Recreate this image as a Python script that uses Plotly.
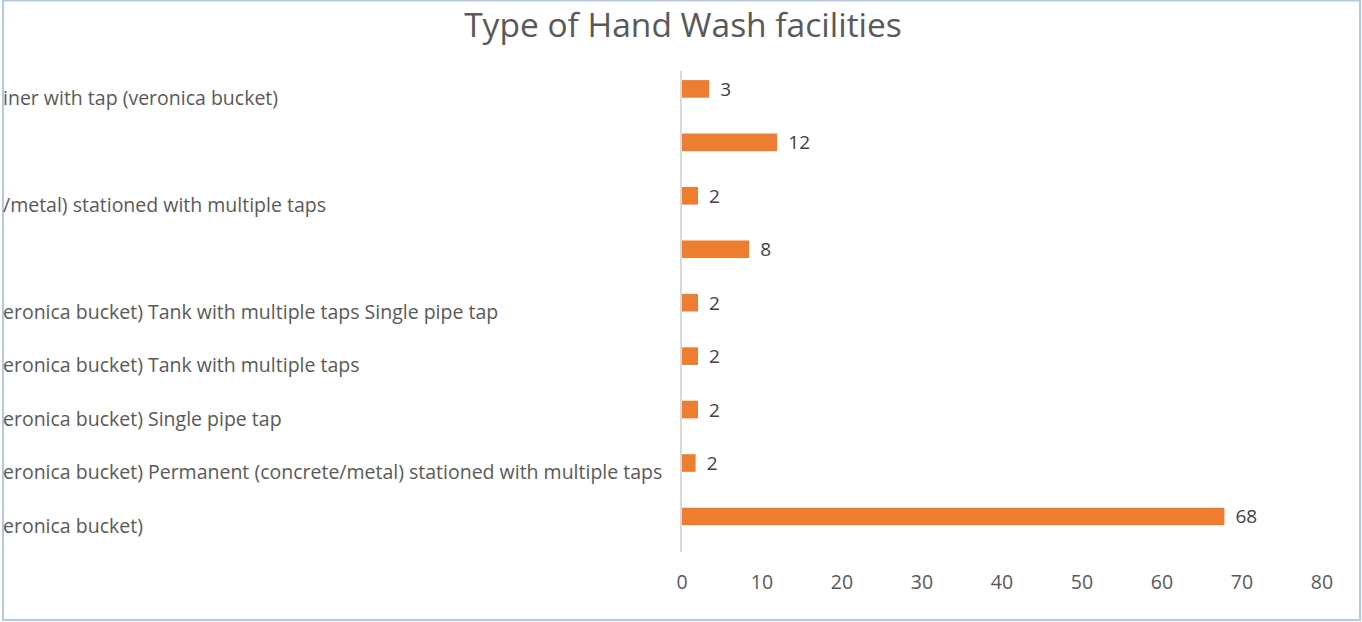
import plotly.graph_objects as go

# Visible (clipped) category labels, top to bottom
labels = [
    "iner with tap (veronica bucket)",
    "",
    "/metal) stationed with multiple taps",
    "",
    "eronica bucket) Tank with multiple taps Single pipe tap",
    "eronica bucket) Tank with multiple taps",
    "eronica bucket) Single pipe tap",
    "eronica bucket) Permanent (concrete/metal) stationed with multiple taps",
    "eronica bucket)",
]
values = [3.4, 11.9, 2.0, 8.4, 2.0, 2.0, 2.0, 1.7, 67.8]
x_ticks = [0, 10, 20, 30, 40, 50, 60, 70, 80]
title = "Type of Hand Wash facilities"

W, H = 1362, 622
ML, MR, MT, MB = 682, 40, 71, 70
PW, PH = W - ML - MR, H - MT - MB

FONT = "Open Sans"
GRAY = "#595959"

positions = list(range(len(values)))

fig = go.Figure()
fig.add_trace(go.Bar(
    x=values,
    y=positions,
    orientation="h",
    marker=dict(color="#ED7D31", line=dict(width=0)),
    width=0.33,
    offset=-0.33,
    text=values,
    texttemplate=" \u2009%{x:.0f}",
    textposition="outside",
    constraintext="none",
    textfont=dict(family=FONT, size=19, color="#404040"),
    cliponaxis=False,
    hoverinfo="skip",
))

def px_x(px):
    return (px - ML) / PW

def px_y(py):
    return (H - MB - py) / PH

annotations = []
for i, lab in enumerate(labels):
    if lab:
        annotations.append(dict(
            text=lab, x=px_x(1), xref="paper", xanchor="left",
            y=i, yref="y", yanchor="middle", showarrow=False,
            font=dict(family=FONT, size=19.5, color=GRAY),
        ))

fig.update_layout(
    width=W, height=H,
    margin=dict(l=ML, r=MR, t=MT, b=MB, autoexpand=False),
    paper_bgcolor="white", plot_bgcolor="white",
    showlegend=False,
    title=dict(text=title, x=683 / W, xref="container", xanchor="center",
               y=1 - 25 / H, yanchor="middle", yref="container",
               font=dict(family=FONT, size=33.5, color=GRAY)),
    xaxis=dict(range=[0, 80], tickvals=x_ticks, showgrid=False, zeroline=False,
               showline=False, ticks="", ticklabelstandoff=16,
               tickfont=dict(family=FONT, size=19.5, color=GRAY)),
    yaxis=dict(range=[len(values) - 0.5, -0.5], showticklabels=False,
               showgrid=False, zeroline=False, showline=True,
               linecolor="#D9D9D9", linewidth=1.5, ticks=""),
    annotations=annotations,
    shapes=[dict(type="rect", xref="paper", yref="paper",
                 x0=px_x(3), x1=px_x(1360), y0=px_y(620), y1=px_y(0.5),
                 line=dict(color="#B4C7E7", width=2), layer="above")],
)

fig.write_html("out.html",
               config={"displayModeBar": False},
               post_script="document.body.style.margin='0';document.body.style.overflow='hidden';")
